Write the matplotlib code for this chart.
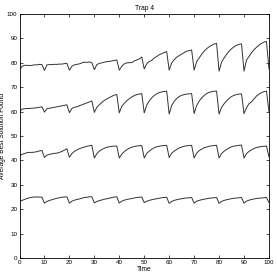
import numpy as np
import matplotlib
matplotlib.use("Agg")
import matplotlib.pyplot as plt

# temps 0..100
time = np.arange(0, 101)

# valeurs (un cycle de 10 pas par ligne)
top_series = [
    77.0, 78.6, 79.0, 79.0, 78.9, 79.0, 79.2, 79.2, 79.4, 79.3,
    76.9, 79.2, 79.3, 79.3, 79.4, 79.4, 79.5, 79.5, 79.7, 79.8,
    77.0, 78.6, 79.2, 79.4, 79.6, 80.0, 80.3, 80.2, 80.4, 80.1,
    77.2, 79.3, 79.8, 80.0, 80.3, 80.5, 80.6, 80.8, 81.0, 81.2,
    77.0, 78.6, 79.6, 80.0, 80.1, 80.1, 80.8, 81.2, 81.6, 82.4,
    77.5, 79.6, 80.6, 81.0, 82.0, 82.6, 83.3, 83.8, 84.2, 84.6,
    77.0, 80.0, 81.3, 82.3, 83.0, 83.6, 84.2, 84.8, 85.0, 85.3,
    77.0, 80.5, 82.0, 83.5, 84.8, 85.8, 86.6, 87.2, 87.7, 88.0,
    76.6, 80.3, 82.0, 83.5, 84.8, 85.8, 86.6, 87.2, 87.6, 87.8,
    76.6, 81.2, 82.6, 84.2, 85.4, 86.4, 87.3, 88.0, 88.5, 88.8,
    77.5,
]

second_series = [
    60.0, 61.0, 61.2, 61.3, 61.3, 61.4, 61.5, 61.6, 61.8, 62.0,
    59.8, 61.2, 61.4, 61.6, 61.8, 62.0, 62.2, 62.4, 62.6, 62.8,
    59.6, 61.3, 61.8, 62.0, 62.4, 62.8, 63.2, 63.6, 64.0, 64.4,
    59.7, 61.8, 62.8, 63.8, 64.6, 65.2, 65.8, 66.3, 66.8, 67.0,
    59.5, 62.2, 63.4, 64.5, 65.3, 66.0, 66.6, 67.0, 67.2, 67.4,
    59.5, 62.7, 64.4, 65.7, 66.6, 67.3, 67.8, 68.1, 68.3, 68.4,
    59.0, 62.6, 64.2, 65.4, 66.2, 66.7, 67.0, 67.2, 67.3, 67.4,
    59.2, 62.5, 64.3, 65.6, 66.6, 67.4, 67.9, 68.2, 68.4, 68.4,
    59.0, 61.8, 63.2, 64.4, 65.4, 66.2, 66.7, 67.0, 67.2, 67.3,
    59.2, 61.6, 63.3, 64.0, 65.2, 66.4, 67.2, 67.8, 68.2, 68.4,
    60.0,
]

third_series = [
    41.9, 42.5, 42.8, 43.2, 43.3, 43.3, 43.4, 43.6, 43.9, 44.1,
    41.2, 42.2, 42.5, 42.7, 42.9, 43.0, 43.3, 43.7, 44.2, 44.8,
    41.3, 42.8, 43.7, 44.3, 44.8, 45.2, 45.5, 45.8, 46.0, 46.2,
    41.0, 42.8, 43.8, 44.5, 45.0, 45.4, 45.6, 45.8, 45.9, 45.9,
    41.0, 42.6, 43.6, 44.4, 45.0, 45.4, 45.7, 45.9, 46.0, 46.1,
    41.0, 42.9, 43.8, 44.6, 45.2, 45.6, 45.8, 46.0, 46.1, 46.2,
    41.2, 43.0, 43.8, 44.5, 45.1, 45.5, 45.8, 46.0, 46.1, 46.2,
    41.0, 43.0, 44.0, 44.6, 45.2, 45.5, 45.8, 46.0, 46.1, 46.2,
    41.0, 42.8, 43.8, 44.5, 45.1, 45.6, 45.9, 46.0, 46.2, 46.3,
    41.0, 42.8, 43.7, 44.3, 44.9, 45.3, 45.5, 45.7, 45.8, 45.9,
    41.5,
]

bottom_series = [
    23.0, 23.6, 24.0, 24.4, 24.7, 24.9, 25.0, 25.0, 25.0, 24.9,
    22.5, 23.2, 23.6, 23.9, 24.2, 24.5, 24.7, 24.9, 25.0, 25.1,
    22.5, 23.3, 23.7, 24.0, 24.2, 24.5, 24.8, 24.9, 25.1, 25.1,
    22.6, 23.2, 23.5, 23.8, 24.1, 24.3, 24.5, 24.8, 25.0, 25.1,
    22.5, 23.3, 23.7, 24.0, 24.2, 24.4, 24.6, 24.8, 24.9, 25.0,
    22.7, 23.3, 23.6, 23.9, 24.1, 24.3, 24.5, 24.7, 24.8, 24.9,
    22.4, 23.2, 23.6, 23.9, 24.1, 24.3, 24.5, 24.6, 24.7, 24.8,
    22.5, 23.3, 23.6, 23.9, 24.1, 24.3, 24.5, 24.6, 24.7, 24.8,
    22.4, 23.2, 23.6, 23.9, 24.1, 24.3, 24.5, 24.6, 24.7, 24.8,
    22.5, 23.3, 23.7, 24.0, 24.2, 24.4, 24.5, 24.6, 24.7, 24.8,
    22.8,
]

x_ticks = list(range(0, 101, 10))
y_ticks = list(range(0, 101, 10))

plt.rcParams['font.family'] = ['Liberation Sans', 'DejaVu Sans']

fig = plt.figure(figsize=(2.77, 2.77), dpi=100)
ax = fig.add_axes([0.0704, 0.0686, 0.9006, 0.8805])

for serie in [top_series, second_series, third_series, bottom_series]:
    ax.plot(time, serie, color='#333333', linewidth=0.7)

ax.set_xlim(0, 100)
ax.set_ylim(0, 100)
ax.set_xticks(x_ticks)
ax.set_yticks(y_ticks)
ax.tick_params(direction='in', length=2, width=0.5, labelsize=4.5, pad=1.5,
               top=True, right=True)
for sp in ax.spines.values():
    sp.set_linewidth(0.6)
ax.set_title('Trap 4', fontsize=4.8, pad=3)
ax.set_xlabel('Time', fontsize=4.8, labelpad=1)
ax.set_ylabel('Average Best Solution Found', fontsize=4.8, labelpad=1)

plt.savefig("out.png", dpi=100)
